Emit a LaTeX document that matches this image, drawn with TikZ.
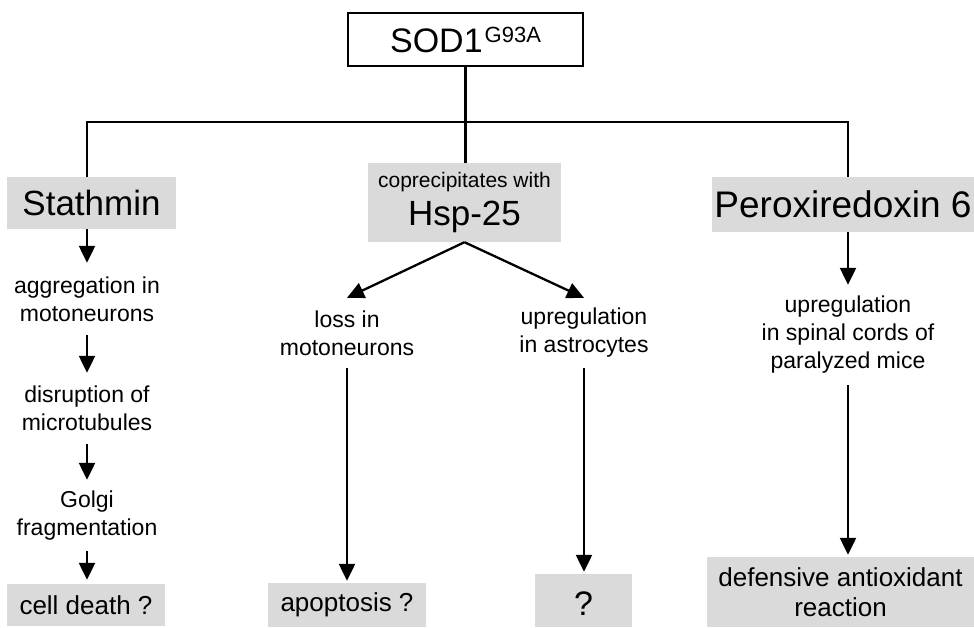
\documentclass[tikz,border=0pt]{standalone}
\usepackage{fontspec}
\setmainfont{Liberation Sans}
\usetikzlibrary{arrows.meta}
\definecolor{boxgray}{RGB}{218,218,218}
\tikzset{
  conn/.style={line width=2.3pt},
  arr/.style={line width=2.3pt,-{Triangle[length=17pt,width=16pt]}},
  graybox/.style={fill=boxgray,inner sep=0pt,align=center},
  midtxt/.style={inner sep=0pt,align=center,font=\fontsize{23}{28}\selectfont},
  bigfont/.style={font=\fontsize{35}{40}\selectfont},
  botfont/.style={font=\fontsize{26}{30}\selectfont},
}
\begin{document}
\begin{tikzpicture}[x=1pt,y=-1pt]
\useasboundingbox (0,0) rectangle (974,627);
% top box
\node[draw,line width=2pt,fill=white,minimum width=235pt,minimum height=53pt,inner sep=0pt] (sod) at (465.5,39.5)
  {\fontsize{34}{40}\selectfont SOD1\hspace{2pt}\raisebox{10pt}{\fontsize{22}{26}\selectfont G93A}};
% second row boxes
\node[graybox,bigfont,minimum width=169pt,minimum height=52pt] (stath) at (91.5,203) {Stathmin};
\node[graybox,minimum width=193pt,minimum height=79pt] (hsp) at (464.5,202.5)
  {\fontsize{21}{24}\selectfont coprecipitates with\\[9pt]\fontsize{35}{39}\selectfont Hsp-25};
\node[graybox,font=\fontsize{37}{42}\selectfont,minimum width=262pt,minimum height=55pt] (perox) at (843,204.5) {Peroxiredoxin 6};
% Stathmin column
\node[midtxt,minimum height=72pt] (agg) at (87,299) {aggregation in\\motoneurons};
\node[midtxt,minimum height=71pt] (disr) at (87,408.5) {disruption of\\microtubules};
\node[midtxt,minimum height=71pt] (golgi) at (87,515.5) {Golgi\\fragmentation};
\node[graybox,botfont,minimum width=158pt,minimum height=42pt] (cell) at (86,605) {cell death ?};
% Hsp columns
\node[midtxt,minimum height=70pt] (loss) at (347,333) {loss in\\motoneurons};
\node[midtxt,minimum height=70pt] (upa) at (584,333) {upregulation\\in astrocytes};
\node[graybox,botfont,minimum width=158pt,minimum height=44pt] (apo) at (347,605) {apoptosis ?};
\node[graybox,font=\fontsize{34}{38}\selectfont,minimum width=97pt,minimum height=53pt,text height=29pt,text depth=0pt] (qbox) at (583.5,600.5) {?};
% Peroxiredoxin column
\node[midtxt,minimum height=100pt] (up3) at (848,335) {upregulation\\in spinal cords of\\paralyzed mice};
\node[graybox,botfont,minimum width=267pt,minimum height=70pt] (def) at (840.5,592) {defensive antioxidant\\reaction};
% tree connectors
\coordinate (jL) at (87,122);
\coordinate (jM) at (465.5,122);
\coordinate (jR) at (848,122);
\draw[conn] (sod.south) -- (jM);
\draw[conn] (jL |- stath.north) -- (jL) -- (jR) -- (jR |- perox.north);
\draw[conn] (jM) -- (jM |- hsp.north);
% arrows
\draw[arr] (agg.north |- stath.south) -- (agg.north);
\draw[arr] (agg.south) -- (disr.north);
\draw[arr] (disr.south) -- (golgi.north);
\draw[arr,shorten >=4pt] (golgi.south) -- (golgi.south |- cell.north);
\draw[arr] (hsp.south) -- (loss.north);
\draw[arr] (hsp.south) -- (upa.north);
\draw[arr,shorten >=2pt] (loss.south) -- (loss.south |- apo.north);
\draw[arr,shorten >=2pt] (upa.south) -- (upa.south |- qbox.north);
\draw[arr] (up3.north |- perox.south) -- (up3.north);
\draw[arr,shorten >=2pt] (up3.south) -- (up3.south |- def.north);
\end{tikzpicture}
\end{document}
